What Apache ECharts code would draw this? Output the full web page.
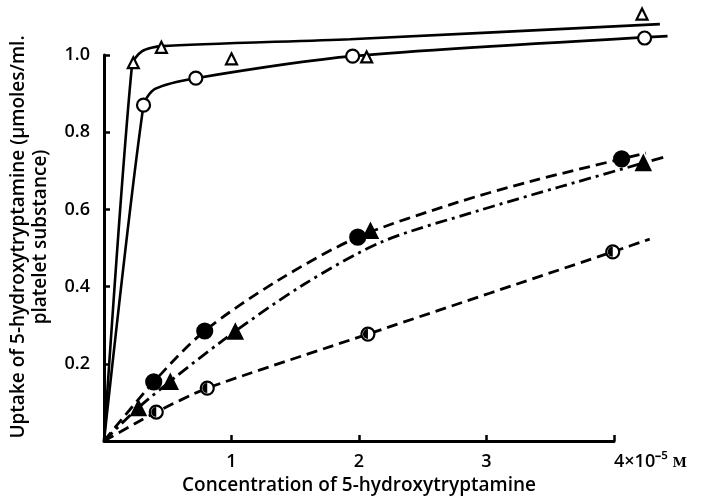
<!DOCTYPE html>
<html>
  <head>
    <meta charset="utf-8">
    <title></title>
    <style media="screen">
    body{margin:0;background:#fff;}
    .box{width:708px;height:500px;}
    </style>
    <script src="https://cdn.jsdelivr.net/npm/echarts@6/dist/echarts.min.js" charset="utf-8"></script>
    <script>
    // x: concentration (x10^-5 M), y: uptake (umoles/ml platelet substance)
    let openTri = [[0.23,0.98],[0.45,1.02],[1.0,0.99],[2.06,0.995],[4.22,1.106]];
    let openCirc = [[0.31,0.87],[0.72,0.94],[1.95,0.997],[4.24,1.044]];
    let fullCirc = [[0.39,0.153],[0.79,0.285],[1.99,0.528],[4.06,0.731]];
    let fullTri = [[0.27,0.085],[0.52,0.153],[1.03,0.283],[2.09,0.544],[4.23,0.72]];
    let halfCirc = [[0.41,0.075],[0.81,0.137],[2.07,0.277],[3.99,0.49]];

    // fitted curves
    let curveTri = [[0,0],[0.22,0.975],[0.3,1.01],[0.45,1.023],[1.93,1.041],[4.36,1.08]];
    let curveCirc = [[0,0],[0.31,0.87],[0.4,0.912],[0.72,0.94],[1.95,0.997],[4.42,1.049]];
    let curveFullCirc = [[0,0],[0.39,0.153],[0.79,0.285],[1.36,0.415],[1.99,0.528],[2.77,0.618],[3.34,0.672],[4.06,0.731],[4.25,0.746]];
    let curveFullTri = [[0,0],[0.31,0.098],[0.93,0.26],[1.56,0.404],[2.18,0.516],[2.93,0.596],[3.57,0.658],[4.42,0.738]];
    let curveHalf = [[0,0],[0.41,0.075],[0.81,0.137],[2.07,0.277],[3.99,0.49],[4.28,0.523]];

    let xTicks = {1:'1',2:'2',3:'3',4:'4×10⁻⁵ {m|M}'};
    let yTicks = {0.2:'0.2',0.4:'0.4',0.6:'0.6',0.8:'0.8',1:'1.0'};

    window.onload = function(){
      let font = 'Open Sans';
      let line = (data, type, w, sm) => ({
        type:'line', data:data, showSymbol:false, smooth:sm, xAxisIndex:0, yAxisIndex:0,
        lineStyle:{color:'#000', width:w, type:type}, silent:true, z:2
      });
      let pts = (data, symbol, size, fill, extra) => Object.assign({
        type:'scatter', data:data, symbol:symbol, symbolSize:size, xAxisIndex:0, yAxisIndex:0,
        itemStyle:{color:fill, borderColor:'#000', borderWidth:2.2, opacity:1}, z:5
      }, extra || {});
      let hidden = {show:false};

      let option = {
        animation:false,
        grid:[
          // plotting area, a bit larger than the drawn axes so curves run past 4 and 1.0
          // same scale as the drawn axes: 127.5 px per x unit, 386 px per y unit
          {left:104, right:17.5, top:8.68, bottom:59},
          {left:104, right:94, top:55, bottom:59}
        ],
        xAxis:[
          {type:'value', gridIndex:0, min:0, max:4.6, axisLine:hidden, axisTick:hidden, axisLabel:hidden, splitLine:hidden},
          {
            type:'value', gridIndex:1, min:0, max:4, interval:1,
            axisLine:{lineStyle:{color:'#000', width:3}},
            axisTick:{inside:true, length:6, lineStyle:{color:'#000', width:2.5}},
            splitLine:{show:false},
            axisLabel:{
              margin:12, color:'#000', fontFamily:font, fontSize:18, fontWeight:600,
              alignMaxLabel:'left',
              formatter:v => xTicks[v] || '',
              rich:{m:{fontFamily:'DejaVu Serif', fontSize:13, color:'#000', padding:[4,0,0,0]}}
            },
            name:'Concentration of 5-hydroxytryptamine', nameLocation:'middle', nameGap:29,
            nameTextStyle:{color:'#000', fontFamily:font, fontSize:19, fontWeight:600}
          }
        ],
        yAxis:[
          {type:'value', gridIndex:0, min:0, max:1.12, axisLine:hidden, axisTick:hidden, axisLabel:hidden, splitLine:hidden},
          {
            type:'value', gridIndex:1, min:0, max:1, interval:0.2,
            axisLine:{lineStyle:{color:'#000', width:3}},
            axisTick:{inside:true, length:6, lineStyle:{color:'#000', width:2.5}},
            splitLine:{show:false},
            axisLabel:{
              margin:14, color:'#000', fontFamily:font, fontSize:18, fontWeight:600,
              formatter:v => yTicks[Math.round(v*10)/10] || ''
            },
            name:'Uptake of 5-hydroxytryptamine (μmoles/ml.\nplatelet substance)',
            nameLocation:'middle', nameRotate:90, nameGap:52,
            nameTextStyle:{color:'#000', fontFamily:font, fontSize:19, fontWeight:600, lineHeight:22, padding:[0,0,0,22]}
          }
        ],
        series:[
          line(curveTri, 'solid', 2.6, 0.25),
          line(curveCirc, 'solid', 2.6, 0.25),
          line(curveFullCirc, [11,6], 2.8, 0.3),
          line(curveFullTri, [12,5,3,5], 2.8, 0.3),
          line(curveHalf, [11,6], 2.8, 0.2),
          pts(openTri, 'triangle', 11, '#fff'),
          pts(openCirc, 'circle', 13, '#fff'),
          pts(fullCirc, 'circle', 15, '#000'),
          pts(fullTri, 'triangle', 14, '#000'),
          pts(halfCirc, 'circle', 13, '#fff'),
          pts(halfCirc, 'path://M10,0 A10,10 0 0,0 10,20 Z', [5,10], '#000', {symbolOffset:[-2.5,0], itemStyle:{color:'#000', opacity:1}, z:6})
        ]
      };
      let chart = echarts.init(document.querySelector('.box'));
      chart.setOption(option);
    }
    </script>
  </head>
  <body>
    <div class="box"></div>
  </body>
</html>
